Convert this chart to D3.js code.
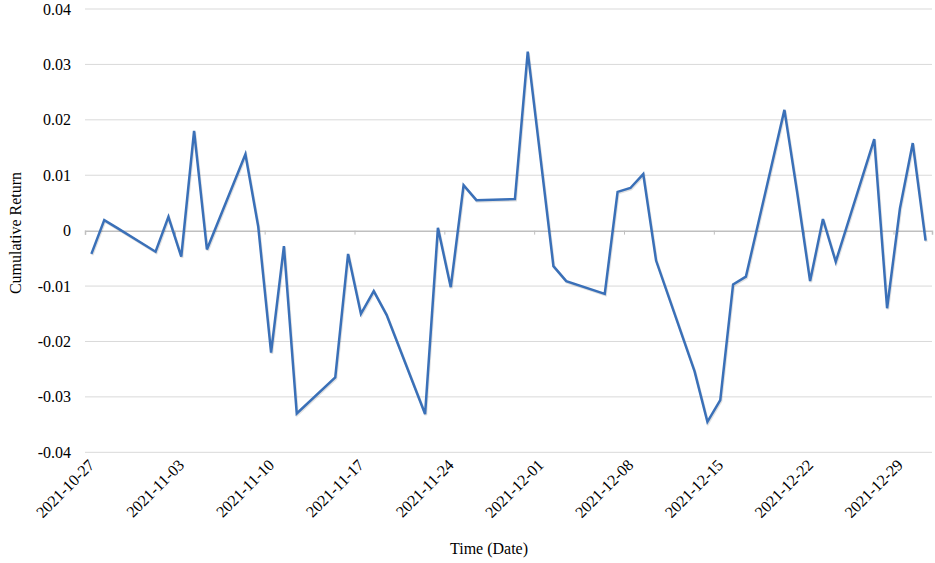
<!DOCTYPE html>
<html><head><meta charset="utf-8">
<script src="https://cdn.jsdelivr.net/npm/d3@7"></script>
<style>body{margin:0;background:#fff}svg{display:block}</style>
</head><body>
<svg id="c" width="935" height="563"></svg>
<script>
const dates = ["2021-10-27","2021-10-28","2021-10-29","2021-11-01","2021-11-02","2021-11-03","2021-11-04","2021-11-05",
"2021-11-08","2021-11-09","2021-11-10","2021-11-11","2021-11-12","2021-11-15","2021-11-16","2021-11-17","2021-11-18","2021-11-19",
"2021-11-22","2021-11-23","2021-11-24","2021-11-25","2021-11-26","2021-11-29","2021-11-30","2021-12-01","2021-12-02","2021-12-03",
"2021-12-06","2021-12-07","2021-12-08","2021-12-09","2021-12-10","2021-12-13","2021-12-14","2021-12-15","2021-12-16","2021-12-17",
"2021-12-20","2021-12-21","2021-12-22","2021-12-23","2021-12-24","2021-12-27","2021-12-28","2021-12-29","2021-12-30","2021-12-31"];
const returns = [-0.0042,0.0019,0.0005,-0.0038,0.0025,-0.0047,0.0180,-0.0034,
0.0138,0.0007,-0.0220,-0.0028,-0.0330,-0.0265,-0.0042,-0.0150,-0.0109,-0.0152,
-0.0331,0.0005,-0.0102,0.0082,0.0055,0.0057,0.0323,0.0130,-0.0064,-0.0091,
-0.0114,0.0070,0.0077,0.0102,-0.0054,-0.0254,-0.0345,-0.0306,-0.0097,-0.0083,
0.0218,0.0068,-0.0091,0.0021,-0.0056,0.0165,-0.0140,0.0040,0.0158,-0.0018];
const tickDates = ["2021-10-27","2021-11-03","2021-11-10","2021-11-17","2021-11-24","2021-12-01","2021-12-08","2021-12-15","2021-12-22","2021-12-29"];
const yTicks = [-0.04,-0.03,-0.02,-0.01,0,0.01,0.02,0.03,0.04];
const xTitle = "Time (Date)";
const yTitle = "Cumulative Return";

const parse = d3.utcParse("%Y-%m-%d");
const svg = d3.select("#c");
const font = "'Liberation Serif','Times New Roman',serif";
const DAY = 86400000;

const x = d3.scaleUtc().domain([parse("2021-10-27"), parse("2022-01-01")]).range([85, 932]);
const y = d3.scaleLinear().domain([-0.04, 0.04]).range([452.3, 9]);
const half = (x(new Date(parse("2021-10-27").getTime()+DAY)) - x(parse("2021-10-27")))/2;

// gridlines
svg.append("g").selectAll("line").data(yTicks.filter(d=>d!==0)).join("line")
  .attr("x1",85).attr("x2",932).attr("y1",d=>y(d)).attr("y2",d=>y(d))
  .attr("stroke","#d9d9d9").attr("stroke-width",1);

// y axis labels
const fmt = d => d===0 ? "0" : d3.format(".2f")(d).replace("−","-");
svg.append("g").selectAll("text").data(yTicks).join("text")
  .attr("x",71).attr("y",d=>y(d)).attr("dy","0.35em").attr("text-anchor","end")
  .attr("font-family",font).attr("font-size",16).attr("fill","#000").text(fmt);

// zero axis with ticks
const xa = svg.append("g").attr("transform",`translate(0,${y(0)})`)
  .call(d3.axisBottom(x).tickValues(tickDates.map(parse)).tickSize(4).tickFormat(""));
xa.select(".domain").attr("stroke","#bfbfbf").attr("stroke-width",1.5);
xa.selectAll(".tick line").attr("stroke","#bfbfbf");

// x tick labels
svg.append("g").selectAll("text").data(tickDates).join("text")
  .attr("transform",d=>`translate(${x(parse(d))+half+4},${466}) rotate(-45)`)
  .attr("text-anchor","end").attr("font-family",font).attr("font-size",16).attr("fill","#000")
  .text(d=>d);

// line
const pts = dates.map((d,i)=>({d:parse(d), v:returns[i]}));
const line = d3.line().x(p=>x(p.d)+half).y(p=>y(p.v));
svg.append("path").datum(pts).attr("d",line).attr("fill","none")
  .attr("stroke","#000").attr("stroke-opacity",0.12).attr("stroke-width",2.6)
  .attr("transform","translate(0.8,1.2)").attr("stroke-linejoin","miter");
svg.append("path").datum(pts).attr("d",line).attr("fill","none")
  .attr("stroke","#3a70b8").attr("stroke-width",2.5).attr("stroke-linejoin","miter");

// titles
svg.append("text").attr("x",489).attr("y",554).attr("text-anchor","middle")
  .attr("font-family",font).attr("font-size",16).text(xTitle);
svg.append("text").attr("transform",`translate(21,233) rotate(-90)`).attr("text-anchor","middle")
  .attr("font-family",font).attr("font-size",16).text(yTitle);
</script>
</body></html>
